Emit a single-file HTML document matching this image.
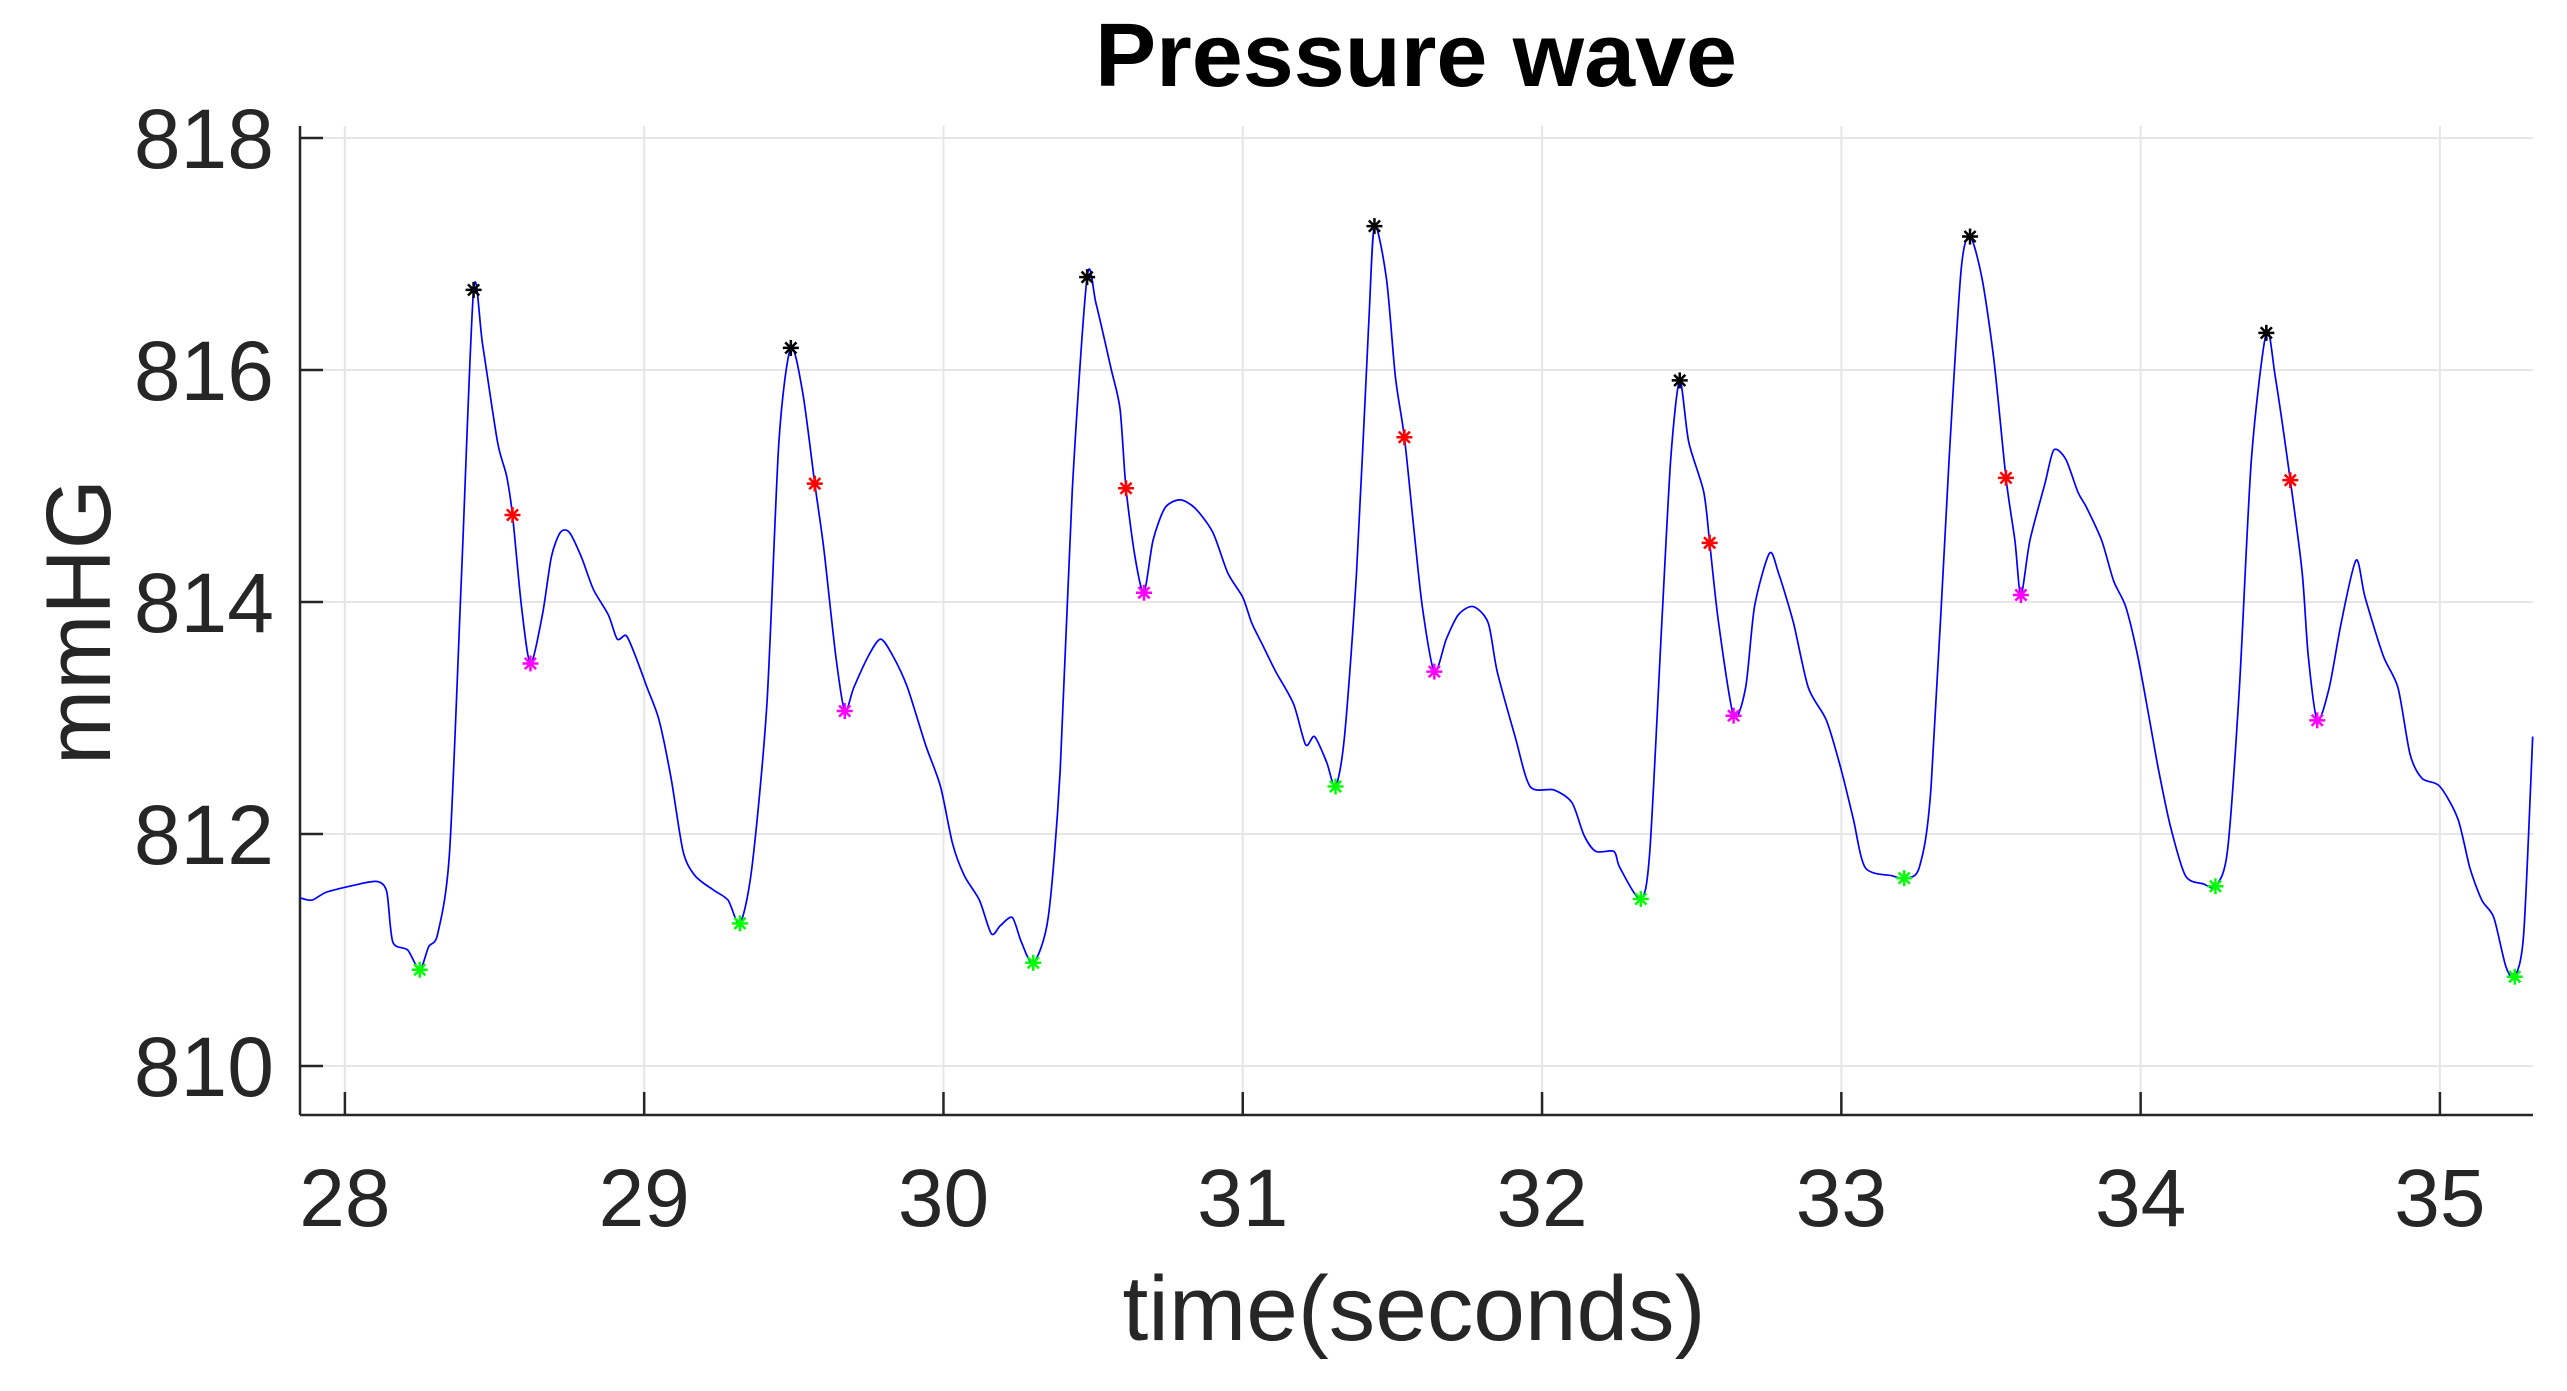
<!DOCTYPE html>
<html><head><meta charset="utf-8"><style>
html,body{margin:0;padding:0;background:#fff;}
svg{display:block;font-family:"Liberation Sans",Arial,sans-serif;}
</style></head><body>
<svg id="chart" width="2567" height="1391" viewBox="0 0 2567 1391" xmlns="http://www.w3.org/2000/svg">
<rect width="2567" height="1391" fill="#fff"/>
<g id="grid"></g>
<g id="axes"></g>
<g id="series"></g>
<g id="markers"></g>
<text x="1416" y="86" text-anchor="middle" font-size="90" font-weight="bold" fill="#000" textLength="642" lengthAdjust="spacingAndGlyphs">Pressure wave</text>
<text x="1414" y="1340" text-anchor="middle" font-size="92" fill="#262626" textLength="583" lengthAdjust="spacingAndGlyphs">time(seconds)</text>
<text transform="translate(110,622) rotate(-90)" text-anchor="middle" font-size="92" fill="#262626" textLength="286" lengthAdjust="spacingAndGlyphs">mmHG</text>
</svg>
<script>
const times=[27.85,27.89,27.94,28.05,28.11,28.14,28.16,28.21,28.25,28.28,28.31,28.35,28.39,28.43,28.46,28.51,28.54,28.56,28.59,28.62,28.66,28.69,28.72,28.75,28.79,28.83,28.88,28.91,28.94,28.97,29.01,29.05,29.09,29.13,29.17,29.23,29.28,29.32,29.36,29.41,29.45,29.49,29.53,29.57,29.60,29.64,29.67,29.70,29.75,29.79,29.83,29.88,29.94,29.99,30.03,30.07,30.12,30.16,30.19,30.23,30.26,30.30,30.35,30.39,30.43,30.48,30.51,30.56,30.59,30.61,30.64,30.67,30.70,30.74,30.79,30.84,30.90,30.95,31.00,31.03,31.07,31.11,31.17,31.21,31.24,31.28,31.31,31.34,31.38,31.42,31.44,31.48,31.51,31.54,31.57,31.60,31.64,31.68,31.72,31.77,31.82,31.85,31.91,31.96,32.04,32.10,32.14,32.18,32.24,32.26,32.33,32.36,32.40,32.43,32.46,32.49,32.54,32.56,32.59,32.64,32.68,32.71,32.76,32.79,32.84,32.89,32.95,33.00,33.04,33.08,33.17,33.21,33.26,33.30,33.36,33.40,33.43,33.47,33.51,33.55,33.58,33.60,33.63,33.68,33.71,33.75,33.79,33.82,33.87,33.91,33.95,33.99,34.03,34.06,34.10,34.15,34.21,34.25,34.29,34.33,34.37,34.42,34.45,34.50,34.54,34.56,34.59,34.63,34.67,34.72,34.75,34.81,34.86,34.90,34.94,35.00,35.06,35.10,35.14,35.18,35.22,35.25,35.28,35.31];
const pressure=[811.45,811.43,811.50,811.57,811.59,811.50,811.07,811.00,810.83,811.03,811.14,811.85,814.25,816.69,816.22,815.38,815.09,814.75,813.96,813.47,813.89,814.39,814.60,814.60,814.39,814.11,813.89,813.68,813.71,813.54,813.26,812.98,812.48,811.85,811.64,811.52,811.43,811.23,811.71,813.12,815.38,816.19,815.80,815.02,814.46,813.54,813.06,813.26,813.54,813.68,813.54,813.26,812.77,812.41,811.92,811.64,811.43,811.14,811.21,811.28,811.07,810.89,811.28,812.55,814.95,816.80,816.57,816.01,815.66,814.98,814.39,814.08,814.53,814.81,814.88,814.81,814.60,814.25,814.04,813.82,813.61,813.40,813.12,812.77,812.84,812.62,812.41,812.84,814.25,816.36,817.24,816.79,815.94,815.42,814.67,813.96,813.40,813.68,813.89,813.96,813.82,813.40,812.84,812.41,812.38,812.27,811.99,811.85,811.85,811.71,811.44,811.85,813.82,815.23,815.91,815.38,814.95,814.51,813.82,813.02,813.26,813.96,814.42,814.25,813.82,813.26,812.98,812.55,812.13,811.71,811.64,811.62,811.71,812.41,815.23,816.86,817.15,816.79,816.08,815.07,814.53,814.06,814.53,815.02,815.31,815.23,814.95,814.81,814.53,814.18,813.96,813.54,812.98,812.55,812.06,811.64,811.57,811.55,811.85,813.26,815.23,816.32,815.94,815.05,814.25,813.54,812.98,813.26,813.82,814.36,814.04,813.54,813.26,812.69,812.48,812.41,812.13,811.71,811.43,811.28,810.86,810.77,811.14,812.84];
const peakT=[28.43,29.49,30.48,31.44,32.46,33.43,34.42];
const peakV=[816.69,816.19,816.80,817.24,815.91,817.15,816.32];
const notchT=[28.56,29.57,30.61,31.54,32.56,33.55,34.50];
const notchV=[814.75,815.02,814.98,815.42,814.51,815.07,815.05];
const dicroT=[28.62,29.67,30.67,31.64,32.64,33.60,34.59];
const dicroV=[813.47,813.06,814.08,813.40,813.02,814.06,812.98];
const footT=[28.25,29.32,30.30,31.31,32.33,33.21,34.25,35.25];
const footV=[810.83,811.23,810.89,812.41,811.44,811.62,811.55,810.77];
const xTicks=[28,29,30,31,32,33,34,35];
const yTicks=[810,812,814,816,818];

const NS='http://www.w3.org/2000/svg';
const L=300,R=2533,T=126,B=1115;
const xMin=27.850,xMax=35.311,yMin=809.578,yMax=818.103;
function X(t){return L+(t-xMin)/(xMax-xMin)*(R-L);}
function Y(v){return B-(v-yMin)/(yMax-yMin)*(B-T);}
function mk(tag,attrs,parent){const e=document.createElementNS(NS,tag);for(const k in attrs)e.setAttribute(k,attrs[k]);parent.appendChild(e);return e;}
const grid=document.getElementById('grid'),axes=document.getElementById('axes'),series=document.getElementById('series'),markers=document.getElementById('markers');

xTicks.forEach(t=>{
  const g=mk('line',{x1:X(t),x2:X(t),y1:T,y2:B,stroke:'#e6e6e6','stroke-width':2},grid);
  
  
  const tk=mk('line',{x1:X(t),x2:X(t),y1:B,y2:B-23,stroke:'#262626','stroke-width':2.5},axes);
  
  
  const lb=mk('text',{x:X(t),y:1226,'text-anchor':'middle','font-size':82,fill:'#262626'},axes);
  lb.textContent=t;
  
  
});
yTicks.forEach(v=>{
  const g=mk('line',{x1:L,x2:R,y1:Y(v),y2:Y(v),stroke:'#e6e6e6','stroke-width':2},grid);
  
  
  const tk=mk('line',{x1:L,x2:L+23,y1:Y(v),y2:Y(v),stroke:'#262626','stroke-width':2.5},axes);
  
  
  const lb=mk('text',{x:274,y:Y(v)+30,'text-anchor':'end','font-size':84,fill:'#262626'},axes);
  lb.textContent=v;
  
  
});
const xa=mk('line',{x1:L,x2:R,y1:B,y2:B,stroke:'#262626','stroke-width':2.5},axes);


const ya=mk('line',{x1:L,x2:L,y1:T,y2:B,stroke:'#262626','stroke-width':2.5},axes);



// smooth path (Catmull-Rom -> Bezier)
const P=times.map((t,i)=>[X(t),Y(pressure[i])]);
let d='M'+P[0][0].toFixed(1)+' '+P[0][1].toFixed(1);
for(let i=0;i<P.length-1;i++){
  const p0=P[Math.max(0,i-1)],p1=P[i],p2=P[i+1],p3=P[Math.min(P.length-1,i+2)];
  const k=1/6*0.8;
  const c1=[p1[0]+(p2[0]-p0[0])*k,p1[1]+(p2[1]-p0[1])*k];
  const c2=[p2[0]-(p3[0]-p1[0])*k,p2[1]-(p3[1]-p1[1])*k];
  d+='C'+c1[0].toFixed(1)+' '+c1[1].toFixed(1)+' '+c2[0].toFixed(1)+' '+c2[1].toFixed(1)+' '+p2[0].toFixed(1)+' '+p2[1].toFixed(1);
}
const line=mk('path',{d:d,fill:'none',stroke:'#0000ff','stroke-width':1.7,'stroke-linejoin':'round'},series);



function star(cx,cy,color,name){
  const g=mk('g',{stroke:color,'stroke-width':2.5},markers);
  
  
  const r=8;
  mk('line',{x1:cx-r,x2:cx+r,y1:cy,y2:cy},g);
  mk('line',{x1:cx,x2:cx,y1:cy-r,y2:cy+r},g);
  mk('line',{x1:cx-r*0.7,x2:cx+r*0.7,y1:cy-r*0.7,y2:cy+r*0.7},g);
  mk('line',{x1:cx-r*0.7,x2:cx+r*0.7,y1:cy+r*0.7,y2:cy-r*0.7},g);
}
peakT.forEach((t,i)=>star(X(t),Y(peakV[i]),'#000','systolic-peak-marker'));
notchT.forEach((t,i)=>star(X(t),Y(notchV[i]),'#ff0000','notch-marker'));
dicroT.forEach((t,i)=>star(X(t),Y(dicroV[i]),'#ff00ff','dicrotic-marker'));
footT.forEach((t,i)=>star(X(t),Y(footV[i]),'#00ff00','foot-marker'));
</script>
</body></html>
